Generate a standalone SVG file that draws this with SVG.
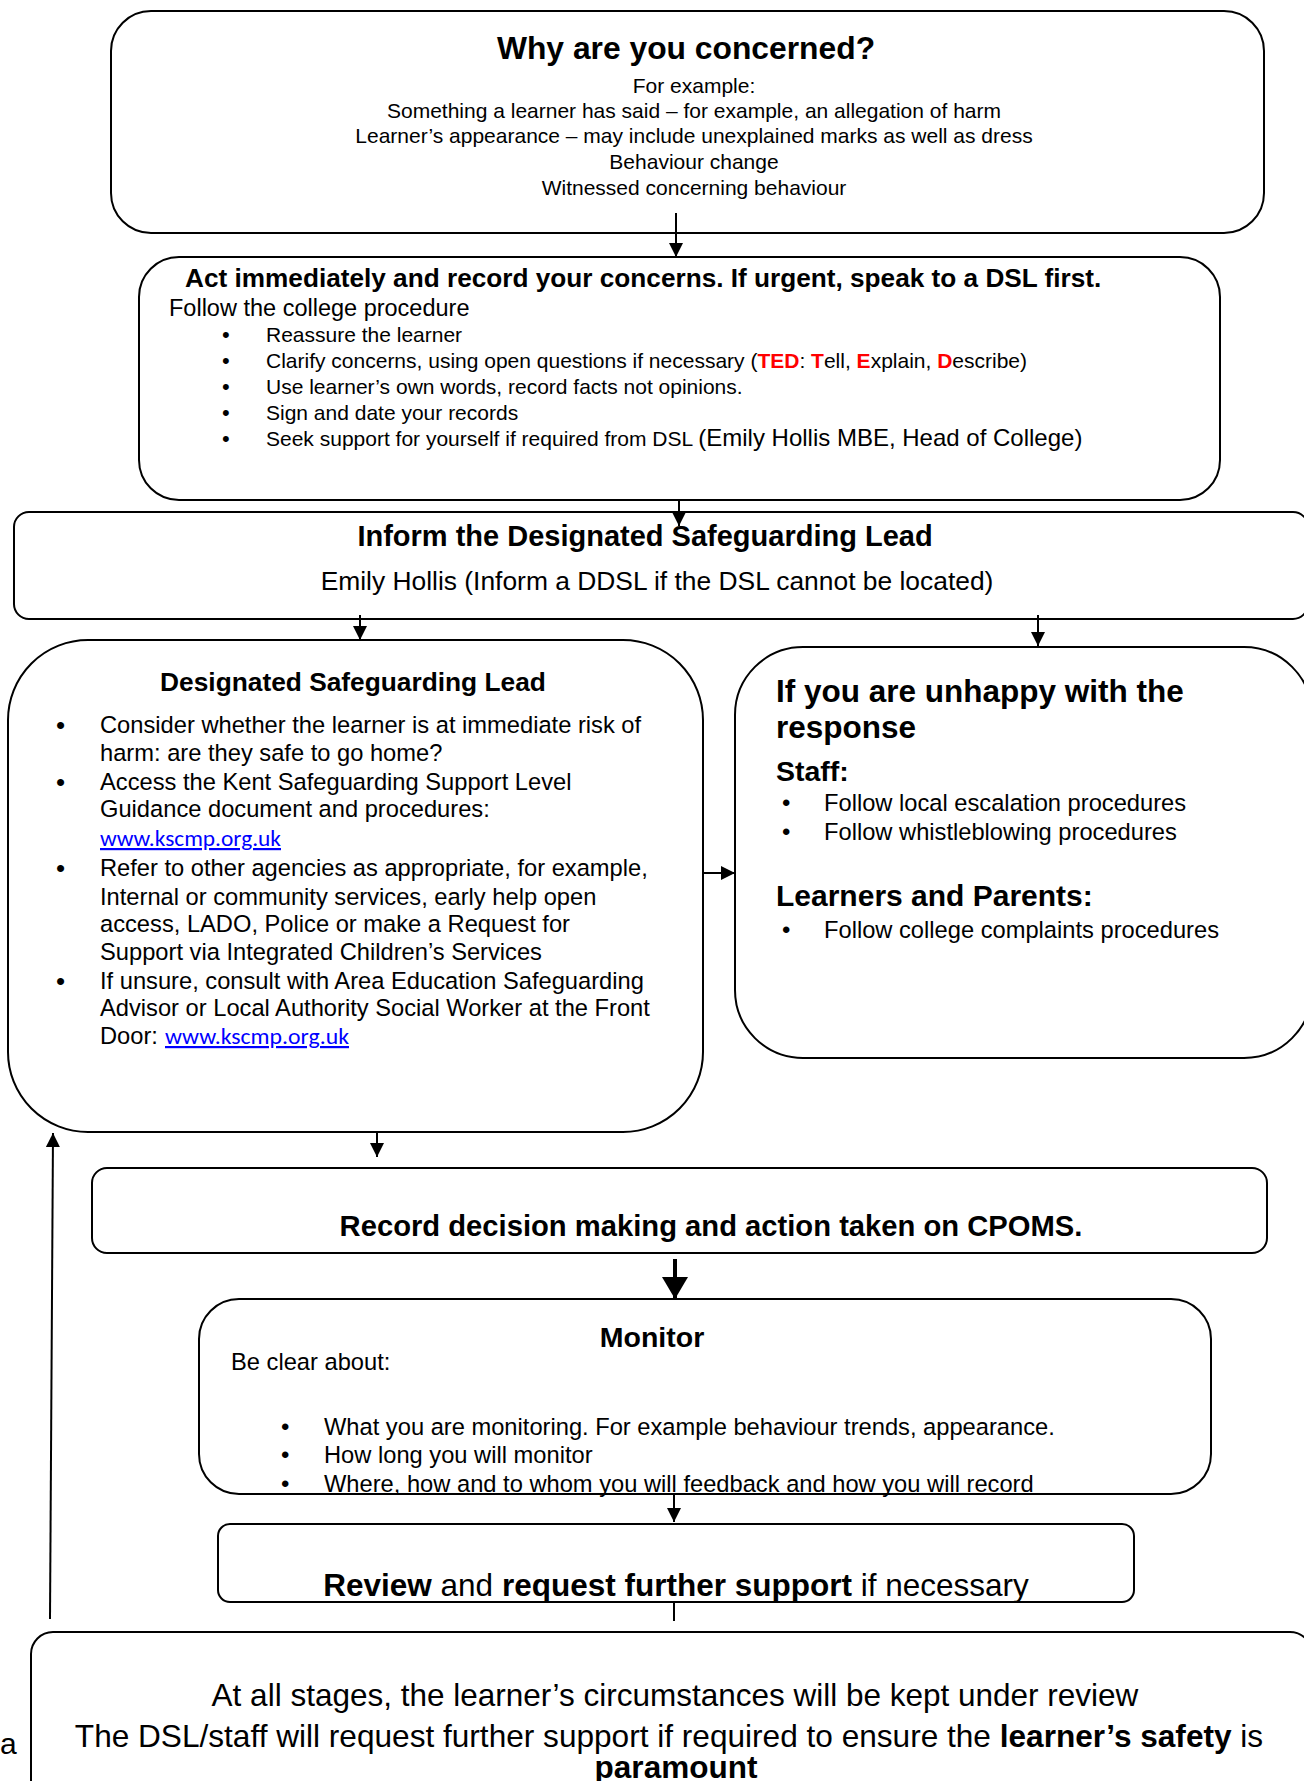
<svg xmlns="http://www.w3.org/2000/svg" width="1304" height="1781" viewBox="0 0 1304 1781">
<style>
.box{fill:#fff;stroke:#000;stroke-width:2}
text{font-family:"Liberation Sans",Arial,sans-serif;fill:#000}
.b{font-weight:bold}
.c{text-anchor:middle}
.red{fill:#f00;font-weight:bold}
.link{fill:#00f;text-decoration:underline;font-family:Carlito,Lato,"Liberation Sans",sans-serif}
.conn{stroke:#000;stroke-width:2;fill:none}
.thick{stroke:#000;stroke-width:4;fill:none}
</style>
<defs>
<marker id="ah" markerUnits="userSpaceOnUse" markerWidth="14" markerHeight="14" viewBox="0 0 14 14" refX="14" refY="7" orient="auto"><path d="M0,0 L14,7 L0,14 z" fill="#000"/></marker>
<marker id="ahbig" markerUnits="userSpaceOnUse" markerWidth="22" markerHeight="26" viewBox="0 0 22 26" refX="22" refY="13" orient="auto"><path d="M0,0 L22,13 L0,26 z" fill="#000"/></marker>
</defs>
<rect width="1304" height="1781" fill="#fff"/>

<g id="why-concerned">
<rect class="box" x="111" y="11" width="1153" height="222" rx="40"/>
<text class="b c" x="686" y="59" font-size="31.8">Why are you concerned?</text>
<text class="c" x="694" y="93" font-size="21">For example:</text>
<text class="c" x="694" y="118" font-size="21">Something a learner has said – for example, an allegation of harm</text>
<text class="c" x="694" y="143" font-size="21">Learner’s appearance – may include unexplained marks as well as dress</text>
<text class="c" x="694" y="169" font-size="21">Behaviour change</text>
<text class="c" x="694" y="195" font-size="21">Witnessed concerning behaviour</text>
</g>

<g id="act-immediately">
<rect class="box" x="139" y="257" width="1081" height="243" rx="40"/>
<text class="b" x="185" y="287" font-size="26.2">Act immediately and record your concerns. If urgent, speak to a DSL first.</text>
<text x="169" y="316" font-size="23.5">Follow the college procedure</text>
<text x="222" y="342" font-size="22">•</text>
<text x="266" y="342" font-size="21">Reassure the learner</text>
<text x="222" y="368" font-size="22">•</text>
<text x="266" y="368" font-size="21">Clarify concerns, using open questions if necessary (<tspan class="red">TED</tspan>: <tspan class="red">T</tspan>ell, <tspan class="red">E</tspan>xplain, <tspan class="red">D</tspan>escribe)</text>
<text x="222" y="394" font-size="22">•</text>
<text x="266" y="394" font-size="21">Use learner’s own words, record facts not opinions.</text>
<text x="222" y="420" font-size="22">•</text>
<text x="266" y="420" font-size="21">Sign and date your records</text>
<text x="222" y="446" font-size="22">•</text>
<text x="266" y="446" font-size="21">Seek support for yourself if required from DSL <tspan font-size="24">(Emily Hollis MBE, Head of College)</tspan></text>
</g>

<g id="inform-dsl">
<rect class="box" x="14" y="512" width="1294" height="107" rx="15"/>
<text class="b c" x="645" y="546" font-size="29">Inform the Designated Safeguarding Lead</text>
<text class="c" x="657" y="590" font-size="26.4">Emily Hollis (Inform a DDSL if the DSL cannot be located)</text>
</g>

<g id="dsl">
<rect class="box" x="8" y="640" width="695" height="492" rx="80"/>
<text class="b c" x="353" y="691" font-size="26.3">Designated Safeguarding Lead</text>
<text x="56" y="734" font-size="26">•</text>
<text x="100" y="733" font-size="23.7">Consider whether the learner is at immediate risk of</text>
<text x="100" y="761" font-size="23.7">harm: are they safe to go home?</text>
<text x="56" y="791" font-size="26">•</text>
<text x="100" y="790" font-size="23.7">Access the Kent Safeguarding Support Level</text>
<text x="100" y="817" font-size="23.7">Guidance document and procedures:</text>
<text class="link" x="100" y="846" font-size="22" textLength="181" lengthAdjust="spacingAndGlyphs">www.kscmp.org.uk</text>
<text x="56" y="877" font-size="26">•</text>
<text x="100" y="876" font-size="23.7">Refer to other agencies as appropriate, for example,</text>
<text x="100" y="905" font-size="23.7">Internal or community services, early help open</text>
<text x="100" y="932" font-size="23.7">access, LADO, Police or make a Request for</text>
<text x="100" y="960" font-size="23.7">Support via Integrated Children’s Services</text>
<text x="56" y="990" font-size="26">•</text>
<text x="100" y="989" font-size="23.7">If unsure, consult with Area Education Safeguarding</text>
<text x="100" y="1016" font-size="23.7">Advisor or Local Authority Social Worker at the Front</text>
<text x="100" y="1044" font-size="23.7">Door: </text>
<text class="link" x="165" y="1044" font-size="22" textLength="184" lengthAdjust="spacingAndGlyphs">www.kscmp.org.uk</text>
</g>

<g id="unhappy">
<rect class="box" x="735" y="647" width="577" height="411" rx="68"/>
<text class="b" x="776" y="702" font-size="31.5">If you are unhappy with the</text>
<text class="b" x="776" y="738" font-size="31.5">response</text>
<text class="b" x="776" y="781" font-size="28.5">Staff:</text>
<text x="782" y="811" font-size="24">•</text>
<text x="824" y="811" font-size="23.7">Follow local escalation procedures</text>
<text x="782" y="840" font-size="24">•</text>
<text x="824" y="840" font-size="23.7">Follow whistleblowing procedures</text>
<text class="b" x="776" y="906" font-size="30">Learners and Parents:</text>
<text x="782" y="938" font-size="24">•</text>
<text x="824" y="938" font-size="23.7">Follow college complaints procedures</text>
</g>

<g id="record-cpoms">
<rect class="box" x="92" y="1168" width="1175" height="85" rx="15"/>
<text class="b c" x="711" y="1236" font-size="29.2">Record decision making and action taken on CPOMS.</text>
</g>

<g id="monitor">
<rect class="box" x="199" y="1299" width="1012" height="195" rx="40"/>
<text class="b c" x="652" y="1347" font-size="28.5">Monitor</text>
<text x="231" y="1370" font-size="23.7">Be clear about:</text>
<text x="281" y="1435" font-size="24">•</text>
<text x="324" y="1435" font-size="23.7">What you are monitoring. For example behaviour trends, appearance.</text>
<text x="281" y="1463" font-size="24">•</text>
<text x="324" y="1463" font-size="23.7">How long you will monitor</text>
<text x="281" y="1492" font-size="24">•</text>
<text x="324" y="1492" font-size="23.7">Where, how and to whom you will feedback and how you will record</text>
</g>

<g id="review">
<rect class="box" x="218" y="1524" width="916" height="78" rx="12"/>
<text class="c" x="676" y="1596" font-size="31.5"><tspan class="b">Review</tspan> and <tspan class="b">request further support</tspan> if necessary</text>
</g>

<g id="all-stages">
<rect class="box" x="31" y="1632" width="1281" height="170" rx="22"/>
<text class="c" x="675" y="1706" font-size="31.5">At all stages, the learner’s circumstances will be kept under review</text>
<text class="c" x="669" y="1747" font-size="31.6">The DSL/staff will request further support if required to ensure the <tspan class="b">learner’s safety</tspan> is</text>
<text class="b c" x="676" y="1778" font-size="31.5">paramount</text>
</g>

<text x="0" y="1754" font-size="30">a</text>

<g id="connectors">
<line class="conn" x1="676" y1="213" x2="676" y2="257" marker-end="url(#ah)"/>
<line class="conn" x1="679" y1="500" x2="679" y2="526" marker-end="url(#ah)"/>
<line class="conn" x1="360" y1="615" x2="360" y2="640" marker-end="url(#ah)"/>
<line class="conn" x1="1038" y1="615" x2="1038" y2="646" marker-end="url(#ah)"/>
<line class="conn" x1="703" y1="873" x2="735" y2="873" marker-end="url(#ah)"/>
<line class="conn" x1="377" y1="1131" x2="377" y2="1157" marker-end="url(#ah)"/>
<line class="thick" x1="675" y1="1259" x2="675" y2="1299" marker-end="url(#ahbig)"/>
<line class="conn" x1="674" y1="1494" x2="674" y2="1522" marker-end="url(#ah)"/>
<line class="conn" x1="674" y1="1602" x2="674" y2="1621"/>
<line class="conn" x1="50" y1="1619" x2="53" y2="1133" marker-end="url(#ah)"/>
</g>
</svg>
